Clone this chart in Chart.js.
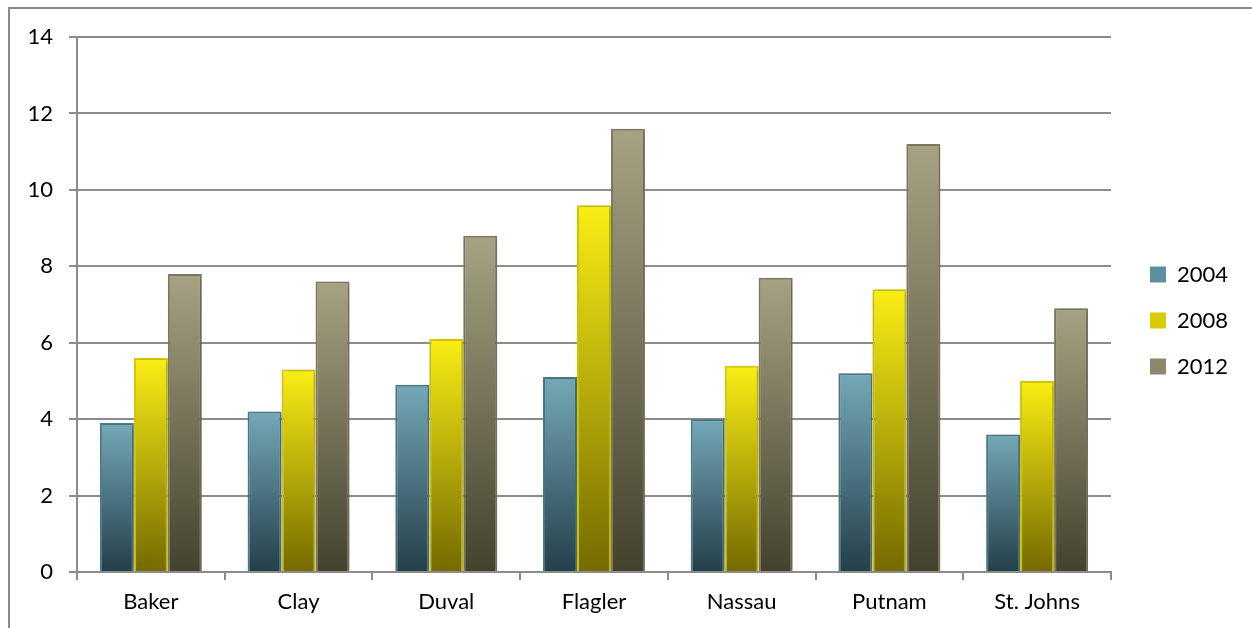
<!DOCTYPE html>
<html>
<head>
<meta charset="utf-8">
<script src="https://cdn.jsdelivr.net/npm/chart.js@4/dist/chart.umd.min.js"></script>
<style>
  html, body { margin: 0; padding: 0; background: #fff; }
  #wrap { position: relative; width: 1252px; height: 628px; overflow: hidden; }
  #frame { position: absolute; left: 8px; top: 7px; width: 1300px; height: 700px;
           border-top: 2px solid #8a8a8a; border-left: 2px solid #8a8a8a; }
  #c { position: absolute; left: 0; top: 0; }
</style>
</head>
<body>
<div id="wrap">
  <div id="frame"></div>
  <canvas id="c" width="1252" height="628"></canvas>
</div>
<script>
// Counties and yearly values
const counties = ["Baker", "Clay", "Duval", "Flagler", "Nassau", "Putnam", "St. Johns"];
const years = ["2004", "2008", "2012"];
const values2004 = [3.9, 4.2, 4.9, 5.1, 4.0, 5.2, 3.6];
const values2008 = [5.6, 5.3, 6.1, 9.6, 5.4, 7.4, 5.0];
const values2012 = [7.8, 7.6, 8.8, 11.6, 7.7, 11.2, 6.9];
const yTicks = [0, 2, 4, 6, 8, 10, 12, 14];

// Per-series gradient stops (top, bottom) and outline colour
const palette = [
  { top: "#74a8b8", bottom: "#243f49", border: "#4d7c8c", swatch: "#5d8fa0" },
  { top: "#faee14", bottom: "#746a00", border: "#d9cc00", swatch: "#d8cc00" },
  { top: "#a6a282", bottom: "#44422e", border: "#7e7c62", swatch: "#8a876a" }
];

// Each bar gets its own vertical gradient from its top down to the baseline
function barGradient(idx) {
  return (ctx) => {
    const chart = ctx.chart;
    if (!chart.chartArea || ctx.raw === undefined) return palette[idx].swatch;
    const y = chart.scales.y;
    const top = y.getPixelForValue(ctx.raw);
    const base = y.getPixelForValue(0);
    const g = chart.ctx.createLinearGradient(0, top, 0, base);
    g.addColorStop(0, palette[idx].top);
    g.addColorStop(1, palette[idx].bottom);
    return g;
  };
}

const seriesValues = [values2004, values2008, values2012];
const datasets = years.map((yr, i) => ({
  label: yr,
  data: seriesValues[i],
  backgroundColor: barGradient(i),
  borderColor: palette[i].border,
  borderWidth: 2,
  categoryPercentage: 0.69,
  barPercentage: 1.0
}));

// Soft drop shadow behind the bars
const barShadow = {
  id: "barShadow",
  beforeDatasetsDraw(chart) {
    const c = chart.ctx;
    c.save();
    c.shadowColor = "rgba(0,0,0,0.28)";
    c.shadowBlur = 5;
    c.shadowOffsetX = 1;
    c.shadowOffsetY = 1;
  },
  afterDatasetsDraw(chart) { chart.ctx.restore(); }
};

// Centre the legend block on the plot area and nudge it away from the grid
const legendLift = {
  id: "legendLift",
  afterLayout(chart) {
    const lg = chart.legend;
    if (!lg) return;
    const area = chart.chartArea;
    const mid = (area.top + area.bottom) / 2 + 16;
    const dy = mid - (lg.top + lg.bottom) / 2;
    lg.top += dy;
    lg.bottom += dy;
    lg.left += 15;
    lg.right += 15;
  }
};

// Square legend swatches with a flat series tone
const legendLabels = (chart) => chart.data.datasets.map((ds, i) => ({
  text: ds.label,
  fillStyle: palette[i].swatch,
  strokeStyle: palette[i].swatch,
  lineWidth: 0,
  hidden: false,
  datasetIndex: i,
  fontColor: "#000"
}));

const FONT = "Lato, 'Open Sans', sans-serif";

new Chart(document.getElementById("c"), {
  type: "bar",
  data: { labels: counties, datasets },
  options: {
    responsive: false,
    animation: false,
    layout: { padding: { left: 0, top: 37, right: 29, bottom: 0 } },
    plugins: {
      tooltip: { enabled: false },
      legend: {
        position: "right",
        align: "center",
        labels: {
          generateLabels: legendLabels,
          boxWidth: 16,
          boxHeight: 16,
          padding: 24,
          color: "#000",
          font: { family: FONT, size: 22 }
        }
      }
    },
    scales: {
      x: {
        afterFit(scale) { scale.height = 56; },
        grid: {
          offset: true,
          drawOnChartArea: false,
          drawTicks: true,
          tickLength: 8,
          color: "#8c8c8c",
          lineWidth: 2
        },
        border: { display: true, color: "#8c8c8c", width: 2 },
        ticks: {
          color: "#000",
          font: { family: FONT, size: 22 },
          padding: 9
        }
      },
      y: {
        min: 0,
        max: 14,
        afterBuildTicks(scale) { scale.ticks = yTicks.map(v => ({ value: v })); },
        afterFit(scale) { scale.width = 77; },
        grid: {
          color: "#8c8c8c",
          lineWidth: 2,
          drawTicks: true,
          tickLength: 8
        },
        border: { display: true, color: "#8c8c8c", width: 2 },
        ticks: {
          color: "#000",
          font: { family: FONT, size: 22 },
          padding: 16
        }
      }
    }
  },
  plugins: [barShadow, legendLift]
});
</script>
</body>
</html>
